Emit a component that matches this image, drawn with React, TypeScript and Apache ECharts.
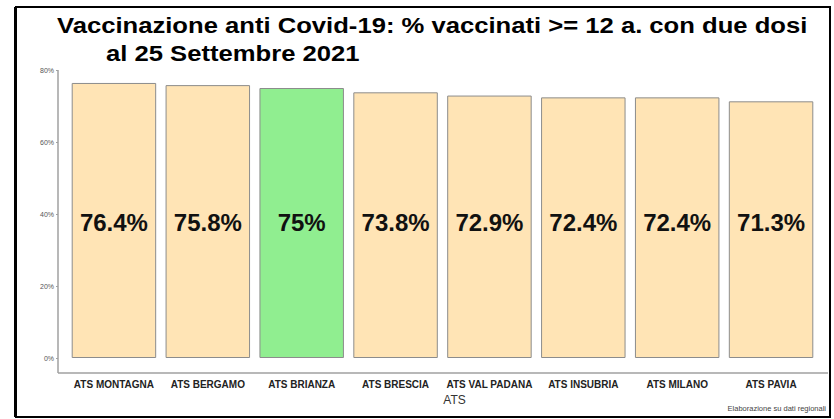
import React, { useEffect, useRef } from "react";
import * as echarts from "echarts";

const categories = [
  "ATS MONTAGNA",
  "ATS BERGAMO",
  "ATS BRIANZA",
  "ATS BRESCIA",
  "ATS VAL PADANA",
  "ATS INSUBRIA",
  "ATS MILANO",
  "ATS PAVIA",
];
const values = [76.4, 75.8, 75, 73.8, 72.9, 72.4, 72.4, 71.3];
const highlight = "ATS BRIANZA";
const titleLine1 = "Vaccinazione anti Covid-19: % vaccinati >= 12 a. con due dosi";
const titleLine2 = "al 25 Settembre 2021";
const footnote = "Elaborazione su dati regionali";

export default function App() {
  const ref = useRef<HTMLDivElement>(null);
  useEffect(() => {
    if (!ref.current) return;
    const chart = echarts.init(ref.current, null, { renderer: "svg" });
    const font = "Liberation Sans, Arial, sans-serif";
    const axisColor = "#a0a0a0";
    chart.setOption({
      animation: false,
      backgroundColor: "#ffffff",
      textStyle: { fontFamily: font },
      grid: { left: 67, right: 16, top: 70, bottom: 61 },
      xAxis: {
        type: "category",
        data: categories,
        offset: 15,
        name: "ATS",
        nameLocation: "middle",
        nameGap: 16,
        nameTextStyle: { fontSize: 12, color: "#333", padding: [0, 0, 0, 24] },
        axisLine: { show: false },
        axisTick: { show: true, alignWithLabel: true, inside: true, length: 3, lineStyle: { color: axisColor } },
        axisLabel: { fontSize: 10, fontWeight: "bold", color: "#222", margin: 6, interval: 0 },
      },
      yAxis: {
        type: "value",
        min: 0,
        max: 80,
        interval: 20,
        offset: 9,
        axisLine: { show: false },
        axisTick: { show: true, length: 2, lineStyle: { color: axisColor } },
        axisLabel: { fontSize: 7, color: "#555", margin: 4, formatter: "{value}%" },
        splitLine: { show: false },
      },
      series: [
        {
          type: "bar",
          data: values.map((v, i) => ({
            value: v,
            itemStyle: { color: categories[i] === highlight ? "#90EE90" : "#FFE4B5" },
          })),
          barCategoryGap: "10%",
          itemStyle: { borderColor: "#8c8c8c", borderWidth: 1 },
          label: {
            show: true,
            position: "insideBottom",
            distance: 124,
            fontSize: 24,
            fontWeight: "bold",
            color: "#111",
            formatter: (p: any) => p.value + "%",
          },
        },
      ],
      graphic: [
        {
          type: "text",
          x: 57,
          y: 14,
          scaleX: 1.165,
          style: { text: titleLine1, fontSize: 22, fontWeight: "bold", fill: "#000", fontFamily: font },
        },
        {
          type: "text",
          x: 106,
          y: 42,
          scaleX: 1.165,
          style: { text: titleLine2, fontSize: 22, fontWeight: "bold", fill: "#000", fontFamily: font },
        },
        {
          type: "line",
          shape: { x1: 58, y1: 70, x2: 58, y2: 373 },
          style: { stroke: axisColor, lineWidth: 1.5 },
        },
        {
          type: "line",
          shape: { x1: 58, y1: 373, x2: 828, y2: 373 },
          style: { stroke: axisColor, lineWidth: 1.5 },
        },
        {
          type: "rect",
          shape: { x: 16, y: 7, width: 814, height: 410 },
          style: { fill: "none", stroke: "#000", lineWidth: 2 },
          z: 100,
        },
        {
          type: "line",
          shape: { x1: 15, y1: 7, x2: 15, y2: 417 },
          style: { stroke: "#000", lineWidth: 2 },
          z: 100,
        },
        {
          type: "text",
          right: 8,
          top: 404,
          style: { text: footnote, fontSize: 7.5, fill: "#444", fontFamily: font },
        },
      ],
    });
    return () => chart.dispose();
  }, []);
  return (
    <div
      ref={ref}
      style={{ position: "fixed", left: 0, top: 0, width: 834, height: 419 }}
    />
  );
}
